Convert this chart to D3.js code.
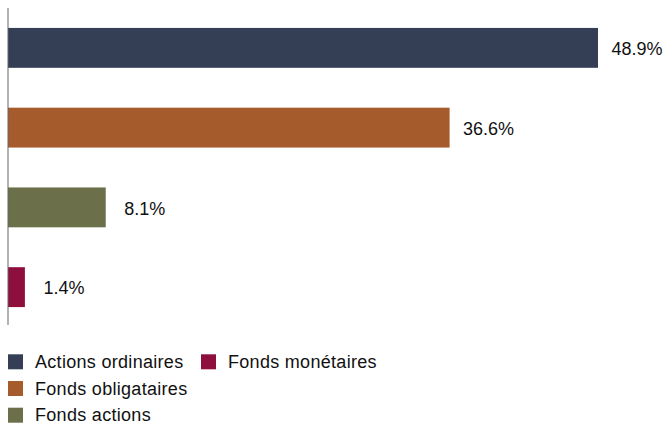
<!DOCTYPE html>
<html><head><meta charset="utf-8">
<script src="https://cdn.jsdelivr.net/npm/d3@7"></script>
<style>body{margin:0;background:#fff}svg{display:block}</style>
</head><body>
<svg id="c" width="665" height="425"></svg>
<script>
const categories = ["Actions ordinaires","Fonds obligataires","Fonds actions","Fonds monétaires"];
const values = [48.9, 36.6, 8.1, 1.4];
const colors = ["#343f56","#a65b2c","#6b704a","#8e0f3d"];

const svg = d3.select("#c");
const font = "'Liberation Sans', Arial, sans-serif";
const x = d3.scaleLinear().domain([0, 48.9]).range([8, 598]);
const y = d3.scaleBand().domain(categories).range([8, 327]).paddingInner(0.5).paddingOuter(0.25);

svg.selectAll("rect.bar").data(categories).join("rect").attr("class","bar")
  .attr("x", x(0)).attr("y", d => y(d)).attr("height", y.bandwidth())
  .attr("width", (d,i) => x(values[i]) - x(0)).attr("fill", (d,i) => colors[i]);

svg.selectAll("text.lab").data(categories).join("text").attr("class","lab")
  .attr("x", (d,i) => x(values[i]) + 39).attr("y", d => y(d) + y.bandwidth()/2 + 1)
  .attr("dy","0.35em").attr("text-anchor","middle")
  .attr("font-family", font).attr("font-size", 18).attr("fill","#111")
  .text((d,i) => values[i].toFixed(1) + "%");

svg.append("line").attr("x1", 8).attr("x2", 8).attr("y1", 8).attr("y2", 325)
  .attr("stroke", "#666").attr("stroke-width", 1);

const legendPos = [[8,354.3],[8,381],[8,407.7],[201,354.3]];
const lg = svg.selectAll("g.lg").data(categories).join("g").attr("class","lg")
  .attr("transform", (d,i) => `translate(${legendPos[i][0]},${legendPos[i][1]})`);
lg.append("rect").attr("width", 15).attr("height", 15).attr("fill", (d,i) => colors[i]);
lg.append("text").attr("x", 27).attr("y", 13.5)
  .attr("font-family", font).attr("font-size", 18).attr("letter-spacing", 0.3)
  .attr("fill","#111").text(d => d);
</script>
</body></html>
